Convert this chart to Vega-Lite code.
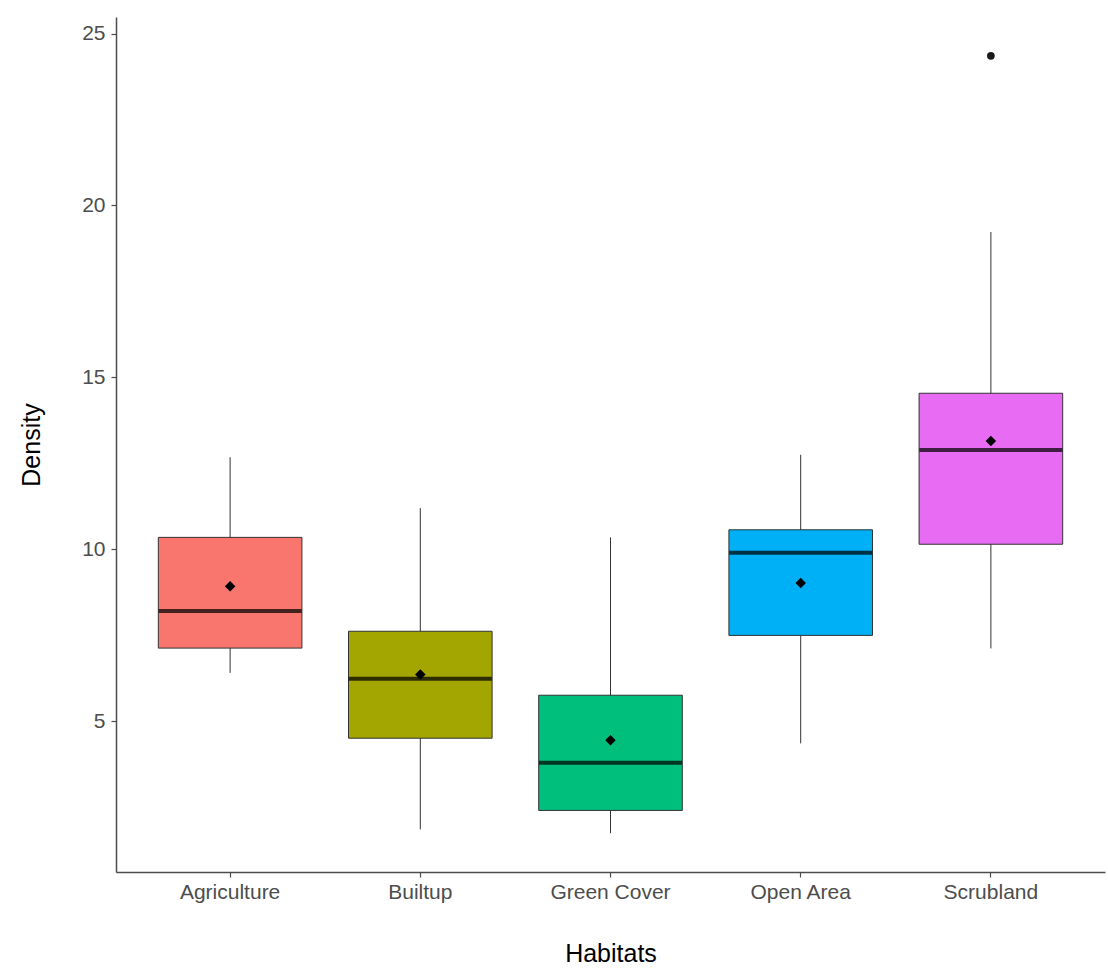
{
  "$schema": "https://vega.github.io/schema/vega-lite/v6.json",
  "width": 989,
  "height": 855,
  "autosize": {"type": "none"},
  "padding": {"left": 116, "top": 17, "right": 3, "bottom": 102},
  "background": "white",
  "config": {
    "view": {"stroke": null},
    "font": "Liberation Sans",
    "axis": {
      "grid": false,
      "domainColor": "#4d4d4d",
      "domainWidth": 1.5,
      "tickColor": "#4d4d4d",
      "tickWidth": 1.2,
      "tickSize": 5,
      "labelColor": "#4d4d4d",
      "labelFont": "Liberation Sans",
      "labelFontSize": 21,
      "labelPadding": 4,
      "titleColor": "#000000",
      "titleFont": "Liberation Sans",
      "titleFontSize": 25,
      "titleFontWeight": "normal"
    }
  },
  "datasets": {
    "boxes": [
      {"habitat": "Agriculture", "lower": 6.41, "q1": 7.13, "median": 8.21, "q3": 10.35, "upper": 12.68, "mean": 8.93},
      {"habitat": "Builtup", "lower": 1.86, "q1": 4.51, "median": 6.24, "q3": 7.62, "upper": 11.2, "mean": 6.36},
      {"habitat": "Green Cover", "lower": 1.75, "q1": 2.41, "median": 3.8, "q3": 5.76, "upper": 10.35, "mean": 4.45},
      {"habitat": "Open Area", "lower": 4.36, "q1": 7.5, "median": 9.9, "q3": 10.57, "upper": 12.75, "mean": 9.02},
      {"habitat": "Scrubland", "lower": 7.12, "q1": 10.15, "median": 12.89, "q3": 14.54, "upper": 19.23, "mean": 13.15}
    ],
    "outliers": [
      {"habitat": "Scrubland", "value": 24.35}
    ]
  },
  "encoding": {
    "x": {
      "field": "habitat",
      "type": "nominal",
      "scale": {"type": "band", "paddingInner": 0, "paddingOuter": 0.1, "domain": ["Agriculture", "Builtup", "Green Cover", "Open Area", "Scrubland"]},
      "axis": {"title": "Habitats", "labelAngle": 0, "titlePadding": 39}
    }
  },
  "layer": [
    {
      "data": {"name": "boxes"},
      "mark": {"type": "rule", "color": "#333333", "strokeWidth": 1},
      "encoding": {
        "y": {"field": "lower", "type": "quantitative", "scale": {"domain": [0.62, 25.48], "nice": false, "zero": false}, "axis": {"title": "Density", "values": [5, 10, 15, 20, 25], "labelPadding": 6, "titlePadding": 37}},
        "y2": {"field": "upper"}
      }
    },
    {
      "data": {"name": "boxes"},
      "mark": {"type": "bar", "stroke": "#333333", "strokeWidth": 1, "width": {"band": 0.755}, "opacity": 1},
      "encoding": {
        "y": {"field": "q1", "type": "quantitative"},
        "y2": {"field": "q3"},
        "color": {
          "field": "habitat",
          "type": "nominal",
          "scale": {"domain": ["Agriculture", "Builtup", "Green Cover", "Open Area", "Scrubland"], "range": ["#F8766D", "#A3A500", "#00BF7D", "#00B0F6", "#E76BF3"]},
          "legend": null
        }
      }
    },
    {
      "data": {"name": "boxes"},
      "mark": {"type": "tick", "thickness": 4, "size": 143, "color": "#000000", "opacity": 0.72},
      "encoding": {
        "y": {"field": "median", "type": "quantitative"}
      }
    },
    {
      "data": {"name": "boxes"},
      "mark": {"type": "point", "shape": "diamond", "filled": true, "size": 110, "color": "#000000", "opacity": 1},
      "encoding": {
        "y": {"field": "mean", "type": "quantitative"}
      }
    },
    {
      "data": {"name": "outliers"},
      "mark": {"type": "point", "shape": "circle", "filled": true, "size": 60, "color": "#1a1a1a", "opacity": 1},
      "encoding": {
        "y": {"field": "value", "type": "quantitative"}
      }
    }
  ]
}
